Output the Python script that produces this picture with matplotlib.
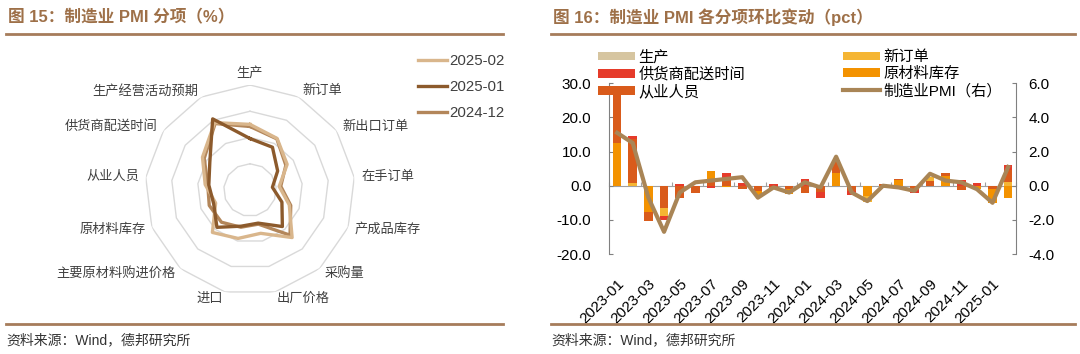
import numpy as np
import matplotlib
matplotlib.use('Agg')
import matplotlib.pyplot as plt
from matplotlib.lines import Line2D
from matplotlib.ticker import FormatStrFormatter

plt.rcParams['font.family'] = ['Liberation Sans', 'Noto Sans CJK SC']
plt.rcParams['axes.unicode_minus'] = False

W, H = 1080, 354

# ---- 图15: PMI sub-indices (%)
items = ['生产', '新订单', '新出口订单', '在手订单', '产成品库存', '采购量', '出厂价格',
         '进口', '主要原材料购进价格', '原材料库存', '从业人员', '供货商配送时间', '生产经营活动预期']
pmi_2025_02 = [52.5, 51.1, 48.6, 45.6, 48.0, 52.1, 48.5, 49.5, 50.8, 47.0, 48.6, 51.0, 54.5]
pmi_2025_01 = [49.8, 49.2, 46.4, 44.3, 46.5, 49.3, 46.5, 47.1, 49.5, 47.4, 47.9, 49.3, 55.3]
pmi_2024_12 = [52.1, 51.0, 48.3, 45.9, 48.3, 51.5, 46.7, 47.3, 48.2, 48.3, 48.1, 50.6, 54.3]
radar_levels = [45, 50, 55, 60]

# ---- 图16: month-on-month change of sub-items (pct)
months = ['2023-01', '2023-02', '2023-03', '2023-04', '2023-05', '2023-06', '2023-07',
          '2023-08', '2023-09', '2023-10', '2023-11', '2023-12', '2024-01', '2024-02',
          '2024-03', '2024-04', '2024-05', '2024-06', '2024-07', '2024-08', '2024-09',
          '2024-10', '2024-11', '2024-12', '2025-01', '2025-02']
production = [0] * 26
new_orders = [0, 0.7, 0, -9.0, 0, 0, 0, 0, 0, 0, 0, 0, 0, 0,
              0, 0, -4.7, -0.7, 0, 0, 2.5, 0, 0, 0, 0, 1.2]
supplier = [0, 14.6, 0, -10.0, 0.4, 0, -0.7, 3.6, 0.9, 0, 0.6, 0, 1.9, -3.7,
            0, -2.6, 0, 0, 0, -2.2, 0, 0, 1.8, 0.9, 0, 6.0]
raw_inventory = [12.4, 0, -7.6, 0, 0, 0, 4.2, -0.5, 0, -3.0, 0, -2.5, 0, 0,
                 3.6, 0, -3.0, 0, 1.6, 0, 0, 2.8, 0, -1.0, -5.2, -3.7]
employment = [26.5, 13.8, -10.2, -6.6, -3.7, -2.2, 1.6, 2.0, -1.0, -1.5, -1.0, -1.0, -2.2, -1.8,
              7.5, -1.5, 0, 0.5, 2.1, -1.3, 1.5, 3.6, -1.3, 0, -1.0, 4.7]
pmi_mom = [3.1, 2.5, -0.7, -2.7, -0.4, 0.2, 0.3, 0.4, 0.5, -0.7, -0.1, -0.4, 0.2, -0.1,
           1.7, -0.4, -0.9, 0.0, -0.1, -0.3, 0.7, 0.3, 0.2, -0.2, -1.0, 1.1]

fig = plt.figure(figsize=(W / 100, H / 100), dpi=100)

def fx(px):
    return px / W

def fy(py):
    return 1 - py / H

# titles, frame lines, sources
brown = '#A67C5B'
for x0, x1, title in [(6, 503, '图 15：制造业 PMI 分项（%）'),
                      (551, 1075, '图 16：制造业 PMI 各分项环比变动（pct）')]:
    fig.text(fx(x0 + 2), fy(17), title, fontsize=12, fontweight='bold', color='#9E7048', va='center')
    fig.add_artist(Line2D([fx(x0), fx(x1)], [fy(34), fy(34)], color=brown, lw=2))
    fig.add_artist(Line2D([fx(x0), fx(x1)], [fy(324), fy(324)], color=brown, lw=2))
    fig.text(fx(x0), fy(340), '资料来源：Wind，德邦研究所', fontsize=10, color='#333333', va='center')

# ---- radar
rax = fig.add_axes([fx(145), fy(295), 210 / W, 210 / H], projection='polar')
ang = np.linspace(0, 2 * np.pi, len(items), endpoint=False)
ang_c = np.append(ang, ang[0])
rax.set_theta_offset(np.pi / 2)
rax.set_theta_direction(-1)
rax.set_ylim(40, 60)
rax.grid(False)
rax.set_xticks([])
rax.set_yticks([])
rax.spines['polar'].set_visible(False)
rax.patch.set_visible(False)
for lvl in radar_levels:
    rax.plot(ang_c, [lvl] * len(ang_c), color='#D9D9D9', lw=1, zorder=1)

radar = [('2025-02', pmi_2025_02, '#D9B68C', 3),
         ('2025-01', pmi_2025_01, '#8C5A2C', 4),
         ('2024-12', pmi_2024_12, '#B3865A', 2)]
rlines = []
for name, vals, col, z in radar:
    ln, = rax.plot(ang_c, vals + vals[:1], color=col, lw=2.4, label=name, zorder=z)
    rlines.append(ln)

for a, name in zip(ang, items):
    s = np.sin(a)
    ha = 'center' if abs(s) < 0.01 else ('left' if s > 0 else 'right')
    r = 62.2 if abs(s) < 0.01 else 61.3
    rax.text(a, r, name, ha=ha, va='center', fontsize=9.5, color='#404040', clip_on=False)

fig.legend(handles=rlines, loc='upper left', bbox_to_anchor=(fx(418), fy(54)), frameon=False,
           fontsize=10.8, handlelength=1.9, handletextpad=0.2, labelspacing=0.8,
           borderpad=0, borderaxespad=0, labelcolor='#404040')

# ---- bars + line
ax = fig.add_axes([fx(609.3), fy(254), 406.7 / W, 170.7 / H])
x = np.arange(len(months))
series = [('生产', production, '#D6C5A0'),
          ('新订单', new_orders, '#F5B533'),
          ('供货商配送时间', supplier, '#E63B2A'),
          ('原材料库存', raw_inventory, '#F39200'),
          ('从业人员', employment, '#D95B1B')]
bars = {}
for name, vals, col in series:
    bc = ax.bar(x, vals, width=0.55, color=col, label=name)
    # overlapping bars: the shorter one of each month is drawn on top
    for b, v in zip(bc, vals):
        b.set_zorder(3 - abs(v) / 100)
    bars[name] = bc

ax.set_xlim(-0.5, len(months) - 0.5)
ax.set_ylim(-20, 30)
ax.set_yticks(np.arange(-20, 31, 10))
ax.yaxis.set_major_formatter(FormatStrFormatter('%.1f'))
ax.set_xticks(x[::2])
ax.set_xticklabels(months[::2], rotation=45, ha='right', va='top', rotation_mode='anchor')
ax.tick_params(axis='x', length=0, pad=16, labelsize=11)
ax.tick_params(axis='y', direction='in', length=3, color='#808080', pad=13, labelsize=11)
for s in ['top', 'bottom', 'right']:
    ax.spines[s].set_visible(False)
ax.spines['left'].set_color('#808080')
ax.patch.set_visible(False)

zero = ax.secondary_xaxis(0, transform=ax.transData)
zero.set_xticks(np.arange(-0.5, len(months), 2))
zero.tick_params(direction='in', length=3, color='#A0A0A0', labelbottom=False, labeltop=False)
for s in zero.spines.values():
    s.set_color('#A0A0A0')

ax2 = ax.twinx()
pl, = ax2.plot(x, pmi_mom, color='#A98556', lw=3, label='制造业PMI（右）')
ax2.set_ylim(-4, 6)
ax2.set_yticks(np.arange(-4, 7, 2))
ax2.yaxis.set_major_formatter(FormatStrFormatter('%.1f'))
ax2.tick_params(axis='y', direction='in', length=3, color='#808080', pad=9, labelsize=11)
for s in ['top', 'bottom', 'left']:
    ax2.spines[s].set_visible(False)
ax2.spines['right'].set_color('#808080')

fig.legend(handles=[bars['生产'], bars['供货商配送时间'], bars['从业人员'],
                    bars['新订单'], bars['原材料库存'], pl],
           labels=['生产', '供货商配送时间', '从业人员', '新订单', '原材料库存', '制造业PMI（右）'],
           ncol=2, loc='upper left', bbox_to_anchor=(fx(598), fy(50)), frameon=False,
           fontsize=11, handlelength=2.4, handleheight=0.5, handletextpad=0.25,
           columnspacing=6.4, labelspacing=0.17, borderpad=0, borderaxespad=0)

fig.savefig('out.png', dpi=100)
